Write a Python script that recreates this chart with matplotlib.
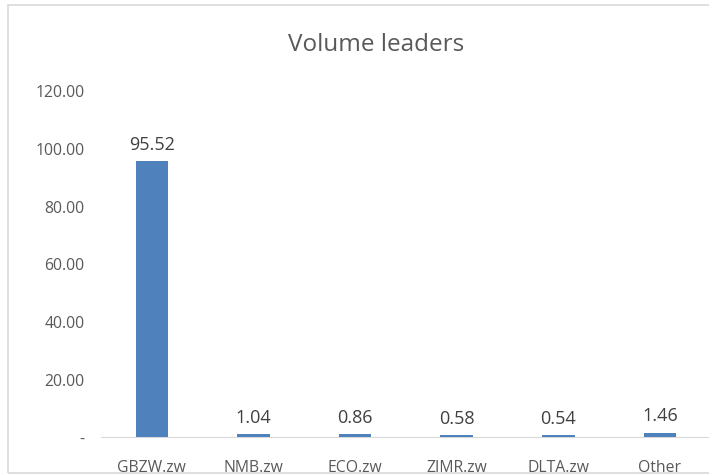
import matplotlib.pyplot as plt
from matplotlib.patches import Rectangle

# Chart data
tickers = ['GBZW.zw', 'NMB.zw', 'ECO.zw', 'ZIMR.zw', 'DLTA.zw', 'Other']
volume = [95.52, 1.04, 0.86, 0.58, 0.54, 1.46]
y_ticks = [0, 20, 40, 60, 80, 100, 120]
y_labels = ['-', '20.00', '40.00', '60.00', '80.00', '100.00', '120.00']

plt.rcParams['font.family'] = ['Open Sans', 'DejaVu Sans']

fig = plt.figure(figsize=(7.09, 4.77), dpi=100)
ax = fig.add_axes([0.1425, 0.082, 0.86, 0.727])

x = range(len(tickers))
ax.bar(x, volume, width=0.32, color='#4F81BD', zorder=3)

# Value labels above bars
for i, v in enumerate(volume):
    ax.annotate(f'{v:.2f}', (i, v), xytext=(0, 6), textcoords='offset points',
                ha='center', va='bottom', fontsize=13, color='#404040')

ax.set_xlim(-0.5, len(tickers) - 0.5)
ax.set_ylim(0, 120)
ax.set_xticks(list(x))
ax.set_xticklabels(tickers, fontsize=11.3, color='#595959')
ax.set_yticks(y_ticks)
ax.set_yticklabels(y_labels, fontsize=11.3, color='#595959')
ax.tick_params(axis='x', length=0, pad=16)
ax.tick_params(axis='y', length=0, pad=12)

for side in ['top', 'right', 'left']:
    ax.spines[side].set_visible(False)
ax.spines['bottom'].set_color('#D9D9D9')

fig.text(0.53, 0.905, 'Volume leaders', ha='center', va='center',
         fontsize=17.5, color='#595959')

# Chart frame
fig.patches.append(Rectangle((8 / 709, 3 / 477), 1.0, 1 - 9 / 477,
                             transform=fig.transFigure, fill=False,
                             edgecolor='#D9D9D9', linewidth=1.2))

fig.savefig('out.png', dpi=100)
